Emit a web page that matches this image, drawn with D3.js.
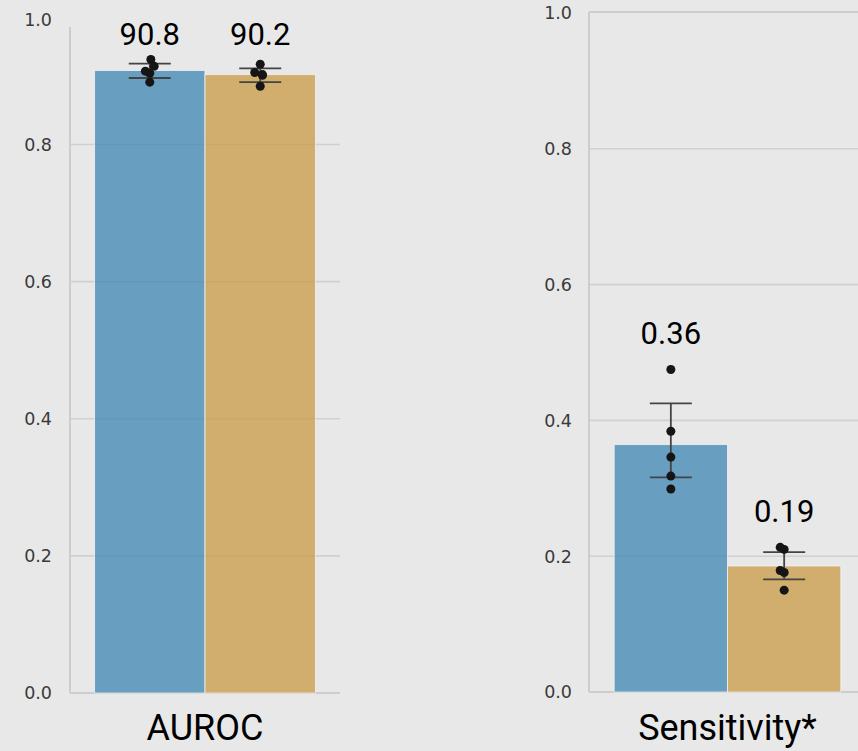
<!DOCTYPE html>
<html>
<head>
<meta charset="utf-8">
<script src="https://cdn.jsdelivr.net/npm/d3@7"></script>
<style>
  html, body { margin: 0; padding: 0; background: #e8e8e8; }
  svg { display: block; }
</style>
</head>
<body>
<div id="chart"></div>
<script>
// ---------------- data ----------------
const categories = ["AUROC", "Sensitivity*"];
const seriesNames = ["A", "B"];
const yTicks = [0.0, 0.2, 0.4, 0.6, 0.8, 1.0];

// per-fold points [category][series]
const aurocA = [0.924, 0.914, 0.907, 0.904, 0.891];
const aurocB = [0.917, 0.905, 0.902, 0.901, 0.885];
const sensA  = [0.475, 0.384, 0.346, 0.318, 0.299];
const sensB  = [0.213, 0.210, 0.179, 0.176, 0.150];

// stripplot jitter (fraction of bar width)
const jitterAurocA = [0.01, 0.04, -0.04, 0.0, 0.0];
const jitterAurocB = [0.0, -0.05, 0.02, 0.02, 0.0];
const jitterSensA  = [0, 0, 0, 0, 0];
const jitterSensB  = [-0.035, 0.0, -0.035, 0.0, 0.0];

// error bar extents
const errAurocA = [0.897, 0.918];
const errAurocB = [0.891, 0.911];
const errSensA  = [0.316, 0.425];
const errSensB  = [0.166, 0.206];

// value labels
const labelsA = ["90.8", "0.36"];
const labelsB = ["90.2", "0.19"];

// ---------------- layout ----------------
const W = 858, H = 751;
const colors = ["#3d85b3", "#c99945"];

const panels = [
  { cat: categories[0], x0: 70, x1: 340, yBottom: 693, yTop: 7.4, spineTop: 27, topSpine: false,
    tickLabelX: 52, tickLabelMinY: 20, valueLabelMinY: 45,
    points: [aurocA, aurocB], jitter: [jitterAurocA, jitterAurocB], err: [errAurocA, errAurocB],
    labels: [labelsA[0], labelsB[0]] },
  { cat: categories[1], x0: 589, x1: 866, yBottom: 692, yTop: 13, spineTop: 12, topSpine: true,
    tickLabelX: 572, tickLabelMinY: 12, valueLabelMinY: 0,
    points: [sensA, sensB], jitter: [jitterSensA, jitterSensB], err: [errSensA, errSensB],
    labels: [labelsA[1], labelsB[1]] }
];

const svg = d3.select("#chart").append("svg")
  .attr("width", W).attr("height", H)
  .style("background", "#e8e8e8");

svg.append("rect").attr("width", W).attr("height", H).attr("fill", "#e8e8e8");

panels.forEach(p => {
  const g = svg.append("g");
  const y = d3.scaleLinear().domain([0, 1]).range([p.yBottom, p.yTop]);
  const x = d3.scaleBand().domain([p.cat]).range([p.x0, p.x1]).padding(0.1);
  const xs = d3.scaleBand().domain(seriesNames).range([0, x.bandwidth()]);

  // gridlines
  g.selectAll(".grid").data(yTicks.filter(t => t > 0 && t < 1)).join("line")
    .attr("x1", p.x0).attr("x2", p.x1)
    .attr("y1", d => y(d)).attr("y2", d => y(d))
    .attr("stroke", "#d0d0d0").attr("stroke-width", 1.6);

  // spines
  g.append("line").attr("x1", p.x0).attr("x2", p.x0)
    .attr("y1", p.spineTop).attr("y2", p.yBottom)
    .attr("stroke", "#cdcdcd").attr("stroke-width", 2);
  g.append("line").attr("x1", p.x0).attr("x2", p.x1)
    .attr("y1", p.yBottom).attr("y2", p.yBottom)
    .attr("stroke", "#cdcdcd").attr("stroke-width", 2);
  if (p.topSpine) {
    g.append("line").attr("x1", p.x0).attr("x2", p.x1)
      .attr("y1", p.spineTop).attr("y2", p.spineTop)
      .attr("stroke", "#cdcdcd").attr("stroke-width", 2);
  }

  // tick labels
  g.selectAll(".tick").data(yTicks).join("text")
    .attr("x", p.tickLabelX)
    .attr("y", d => Math.max(y(d), p.tickLabelMinY))
    .attr("dy", "0.36em")
    .attr("text-anchor", "end")
    .attr("font-family", "DejaVu Sans, sans-serif")
    .attr("font-size", 17.5)
    .attr("fill", "#3a3a3a")
    .text(d => d3.format(".1f")(d));

  seriesNames.forEach((s, i) => {
    const pts = p.points[i];
    const mean = d3.mean(pts);
    const bx = x(p.cat) + xs(s);
    const bw = xs.bandwidth();
    const cx = bx + bw / 2;

    // bar
    g.append("rect")
      .attr("x", bx).attr("width", bw)
      .attr("y", y(mean)).attr("height", y(0) - y(mean))
      .attr("fill", colors[i]).attr("fill-opacity", 0.75)
      .attr("stroke", "#f2f2f2").attr("stroke-opacity", 0.8).attr("stroke-width", 1);

    // error bar
    const [lo, hi] = p.err[i];
    const cap = 21;
    g.append("line").attr("x1", cx).attr("x2", cx).attr("y1", y(lo)).attr("y2", y(hi))
      .attr("stroke", "#444").attr("stroke-width", 1.8);
    [lo, hi].forEach(v => {
      g.append("line").attr("x1", cx - cap).attr("x2", cx + cap).attr("y1", y(v)).attr("y2", y(v))
        .attr("stroke", "#444").attr("stroke-width", 1.8);
    });

    // points
    g.selectAll(".pt" + i).data(pts).join("circle")
      .attr("cx", (d, k) => cx + p.jitter[i][k] * bw)
      .attr("cy", d => y(d))
      .attr("r", 4.5)
      .attr("fill", "#151515");

    // value label
    const top = y(d3.max(pts)) - 25;
    g.append("text")
      .attr("x", cx)
      .attr("y", Math.max(top, p.valueLabelMinY))
      .attr("text-anchor", "middle")
      .attr("font-family", "Roboto, sans-serif")
      .attr("font-size", 31)
      .attr("fill", "#000")
      .text(p.labels[i]);
  });

  // category label
  g.append("text")
    .attr("x", x(p.cat) + x.bandwidth() / 2)
    .attr("y", 740)
    .attr("text-anchor", "middle")
    .attr("font-family", "Roboto, sans-serif")
    .attr("font-size", 36)
    .attr("fill", "#000")
    .text(p.cat);
});
</script>
</body>
</html>
